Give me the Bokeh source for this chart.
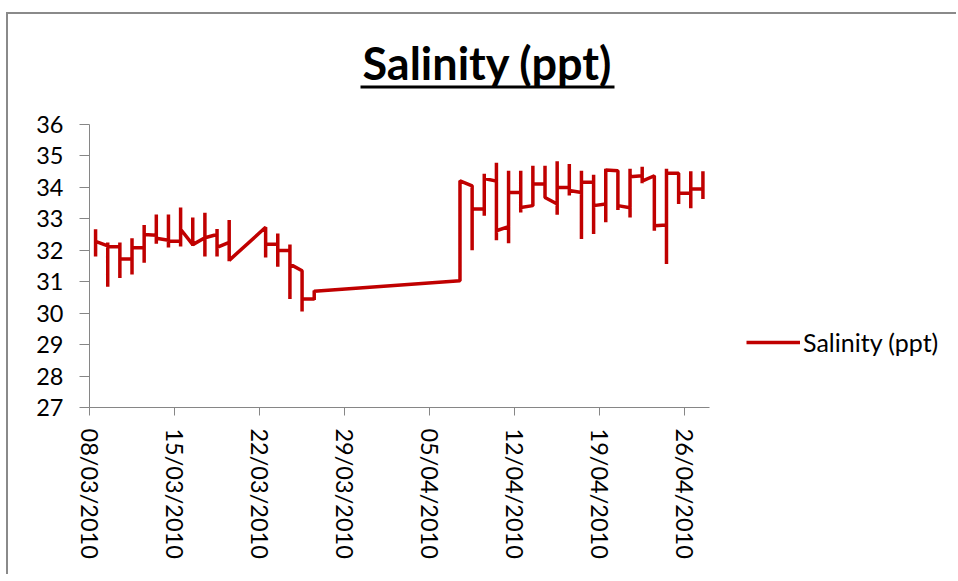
import math
from datetime import datetime, timedelta

from bokeh.plotting import figure
from bokeh.models import (Range1d, FixedTicker, DatetimeTickFormatter, Legend,
                          LegendItem, Label, BoxAnnotation)
from bokeh.embed import file_html
from bokeh.resources import INLINE

# ------------------------------------------------------------------ data
title_text = "Salinity (ppt)"
series_name = "Salinity (ppt)"

day_dates = ["2010-03-08", "2010-03-09", "2010-03-10", "2010-03-11", "2010-03-12",
             "2010-03-13", "2010-03-14", "2010-03-15", "2010-03-16", "2010-03-17",
             "2010-03-18", "2010-03-19", "2010-03-22", "2010-03-23", "2010-03-24",
             "2010-03-25", "2010-03-26", "2010-04-07", "2010-04-08", "2010-04-09",
             "2010-04-10", "2010-04-11", "2010-04-12", "2010-04-13", "2010-04-14",
             "2010-04-15", "2010-04-16", "2010-04-17", "2010-04-18", "2010-04-19",
             "2010-04-20", "2010-04-21", "2010-04-22", "2010-04-23", "2010-04-24",
             "2010-04-25", "2010-04-26", "2010-04-27"]

# readings of each day, in order: first, highest, lowest, last
sal_first = [32.28, 32.14, 32.11, 31.72, 32.08, 32.48, 32.32, 32.29, 32.18, 32.40,
             32.50, 32.25, 32.73, 32.19, 31.99, 31.35, 30.45, 31.03, 34.05, 33.31,
             34.20, 32.75, 33.84, 33.42, 34.11, 33.47, 34.00, 33.84, 34.16, 33.47,
             34.53, 33.35, 34.37, 34.37, 32.80, 34.45, 33.81, 33.95]
sal_max = [32.67, 32.25, 32.25, 32.38, 32.80, 33.14, 33.14, 33.36, 33.04, 33.19,
           32.68, 32.96, 32.73, 32.53, 32.18, 31.35, 30.72, 34.21, 34.05, 34.43,
           34.78, 34.53, 34.53, 34.69, 34.69, 34.83, 34.74, 34.53, 34.40, 34.59,
           34.53, 34.59, 34.66, 34.37, 34.59, 34.45, 34.51, 34.51]
sal_min = [31.80, 30.84, 31.12, 31.23, 31.60, 32.21, 32.09, 32.12, 32.14, 31.80,
           31.80, 31.65, 31.77, 31.48, 30.45, 30.05, 30.42, 31.03, 32.00, 33.10,
           32.32, 32.22, 33.20, 33.42, 33.68, 33.13, 33.74, 32.36, 32.52, 32.89,
           33.28, 33.04, 34.13, 32.62, 31.56, 33.47, 33.34, 33.63]
sal_last = [32.28, 32.11, 31.72, 32.08, 32.50, 32.38, 32.29, 32.67, 32.18, 32.40,
            32.09, 31.68, 32.19, 31.99, 31.56, 30.45, 30.70, 34.21, 33.31, 34.28,
            32.62, 33.84, 33.36, 34.11, 33.68, 34.00, 33.90, 34.16, 33.42, 34.55,
            33.42, 34.34, 34.20, 32.78, 34.45, 33.81, 33.95, 33.63]

tick_dates = ["2010-03-08", "2010-03-15", "2010-03-22", "2010-03-29",
              "2010-04-05", "2010-04-12", "2010-04-19", "2010-04-26"]
axis_start = "2010-03-08"
axis_end = "2010-04-28"
y_ticks = [27, 28, 29, 30, 31, 32, 33, 34, 35, 36]

# ------------------------------------------------------------------ layout
W, H = 950, 562
FL, FT, FR, FB = 81, 1, 949, 393         # frame edges (canvas px)
AXIS_LEN_PX = 619.5                      # length of the date axis
Y36_PX = 110                             # canvas y of the top tick
LINE_COLOR = "#C00000"
AXIS_COLOR = "#868686"
FONT = "Lato"


def d(s):
    return datetime.strptime(s, "%Y-%m-%d")


def ms(dt):
    return (dt - datetime(1970, 1, 1)).total_seconds() * 1000.0


x_start = d(axis_start)
x_axis_end = d(axis_end)
n_days = (x_axis_end - x_start).days
px_per_day = AXIS_LEN_PX / n_days
x_stop = x_start + timedelta(days=(FR - FL) / px_per_day)

y_lo, y_hi = y_ticks[0], y_ticks[-1]
px_per_unit = (FB - Y36_PX) / (y_hi - y_lo)
y_stop = y_lo + (FB - FT) / px_per_unit


def x_of(px):
    return ms(x_start + timedelta(days=(px - FL) / px_per_day))


def y_of(py):
    return y_lo + (FB - py) / px_per_unit


# series: all readings of a day are plotted in the middle of that day
xs, ys = [], []
for i, ds in enumerate(day_dates):
    t = d(ds) + timedelta(hours=12)
    for v in (sal_first[i], sal_max[i], sal_min[i], sal_last[i]):
        xs.append(t)
        ys.append(v)

p = figure(width=W, height=H, x_axis_type="datetime",
           x_range=Range1d(x_start, x_stop), y_range=Range1d(y_lo, y_stop),
           output_backend="svg", toolbar_location=None,
           min_border_left=FL, min_border_top=FT,
           min_border_right=W - FR, min_border_bottom=H - FB)
p.xgrid.visible = False
p.ygrid.visible = False
p.outline_line_color = None
p.background_fill_color = "white"
p.border_fill_color = "white"
p.styles = {"border-top": "2px solid #8a8a8a", "border-left": "2px solid #8a8a8a",
            "margin-top": "12px", "margin-left": "6px"}

r = p.line(xs, ys, line_color=LINE_COLOR, line_width=3.5, line_join="bevel")

# x axis
xa = p.xaxis[0]
xa.ticker = FixedTicker(ticks=[ms(d(t)) for t in tick_dates], minor_ticks=[])
fmt = "%d/%m/%Y"
xa.formatter = DatetimeTickFormatter(microseconds=fmt, milliseconds=fmt, seconds=fmt,
                                     minsec=fmt, minutes=fmt, hourmin=fmt, hours=fmt,
                                     days=fmt, months=fmt, years=fmt)
xa.bounds = (ms(x_start), ms(x_axis_end))
xa.major_label_orientation = -math.pi / 2
xa.major_label_standoff = 13

# y axis
ya = p.yaxis[0]
ya.ticker = FixedTicker(ticks=y_ticks, minor_ticks=[])
ya.bounds = (y_lo, y_hi)
ya.major_label_standoff = 16

for ax, tick_out in ((xa, 8), (ya, 10)):
    ax.axis_line_color = AXIS_COLOR
    ax.axis_line_width = 1
    ax.major_tick_line_color = AXIS_COLOR
    ax.major_tick_out = tick_out
    ax.major_tick_in = 0
    ax.minor_tick_line_color = None
    ax.major_label_text_font = FONT
    ax.major_label_text_font_size = "23.5px"
    ax.major_label_text_color = "black"

# title with underline
p.add_layout(Label(x=x_of(479), y=y_of(48), text=title_text, text_align="center",
                   text_baseline="alphabetic", text_font=FONT,
                   text_font_style="bold", text_font_size="45px",
                   text_color="black"))
p.add_layout(BoxAnnotation(left=x_of(352), right=x_of(606), top=y_of(71),
                           bottom=y_of(74), fill_color="black", fill_alpha=1.0,
                           line_color=None))

# legend
legend = Legend(items=[LegendItem(label=series_name, renderers=[r])],
                location=(738 - FL, 50), glyph_width=54, glyph_height=28,
                label_height=28, label_standoff=3, padding=0, margin=0,
                border_line_color=None, background_fill_alpha=0,
                label_text_font=FONT, label_text_font_size="25px",
                label_text_color="black")
p.add_layout(legend)

open("out.html", "w").write(file_html(p, INLINE))
